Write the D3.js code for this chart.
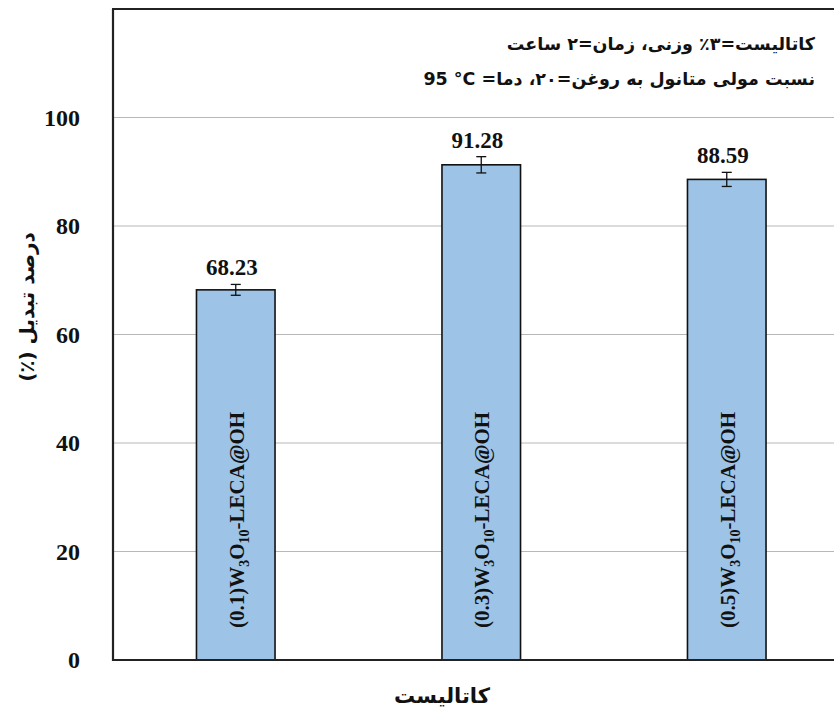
<!DOCTYPE html>
<html>
<head>
<meta charset="utf-8">
<script src="https://cdn.jsdelivr.net/npm/d3@7"></script>
<style>
  html, body { margin: 0; padding: 0; background: #fff; }
  svg { display: block; }
</style>
</head>
<body>
<svg id="chart" width="834" height="710"></svg>
<script>
// Catalyst loading (W3O10 fraction) and conversion results
const catalystLoads = ["0.1", "0.3", "0.5"];
const conversion = [68.23, 91.28, 88.59];
const conversionErr = [1.0, 1.5, 1.3];
const yTicks = [0, 20, 40, 60, 80, 100];

const yTitle = "درصد تبدیل (٪)";
const xTitle = "کاتالیست";
// LRI/PDI keep the temperature reading left-to-right inside the RTL line
const noteLines = [
  "کاتالیست=۳٪ وزنی، زمان=۲ ساعت",
  "نسبت مولی متانول به روغن=۲۰، دما= \u206695 °C\u2069"
];

const svg = d3.select("#chart");
const plotLeft = 113, plotTop = 9, plotBottom = 660, plotRightExtent = 849.5;
const serif = "'Liberation Serif', 'Times New Roman', serif";
const persian = "'DejaVu Sans', sans-serif";

const x = d3.scaleBand()
  .domain(catalystLoads)
  .range([plotLeft, plotRightExtent])
  .paddingInner(0.68)
  .paddingOuter(0.34);

const y = d3.scaleLinear().domain([0, 120]).range([plotBottom, plotTop]);

// horizontal gridlines
svg.append("g")
  .selectAll("line")
  .data(yTicks.filter(d => d > 0))
  .join("line")
  .attr("x1", plotLeft).attr("x2", 834)
  .attr("y1", d => y(d)).attr("y2", d => y(d))
  .attr("stroke", "#b8b8b8").attr("stroke-width", 1);

// y tick labels
const yAxis = svg.append("g")
  .attr("transform", `translate(${plotLeft},0)`)
  .call(d3.axisLeft(y).tickValues(yTicks).tickSize(0).tickPadding(33))
  .attr("font-family", serif)
  .attr("font-size", 24)
  .attr("font-weight", "bold");
yAxis.select(".domain").remove();
yAxis.selectAll("text")
  .attr("font-family", serif)
  .attr("font-weight", "bold")
  .attr("font-size", 24)
  .attr("fill", "#111");

// bars
const data = catalystLoads.map((c, i) => ({ c, v: conversion[i], e: conversionErr[i] }));

svg.append("g")
  .selectAll("rect")
  .data(data)
  .join("rect")
  .attr("x", d => x(d.c))
  .attr("y", d => y(d.v))
  .attr("width", x.bandwidth())
  .attr("height", d => y(0) - y(d.v))
  .attr("fill", "#9dc3e6")
  .attr("stroke", "#111")
  .attr("stroke-width", 1.6);

// error bars
const eb = svg.append("g").attr("stroke", "#111").attr("stroke-width", 1.3);
data.forEach(d => {
  const cx = x(d.c) + x.bandwidth() / 2;
  eb.append("line").attr("x1", cx).attr("x2", cx).attr("y1", y(d.v + d.e)).attr("y2", y(d.v - d.e));
  eb.append("line").attr("x1", cx - 5).attr("x2", cx + 5).attr("y1", y(d.v + d.e)).attr("y2", y(d.v + d.e));
  eb.append("line").attr("x1", cx - 5).attr("x2", cx + 5).attr("y1", y(d.v - d.e)).attr("y2", y(d.v - d.e));
});

// value labels
svg.append("g")
  .selectAll("text")
  .data(data)
  .join("text")
  .attr("x", d => x(d.c) + x.bandwidth() / 2 - 4)
  .attr("y", d => y(d.v + d.e) - 9)
  .attr("text-anchor", "middle")
  .attr("font-family", serif)
  .attr("font-weight", "bold")
  .attr("font-size", 23)
  .attr("fill", "#111")
  .text(d => d.v.toFixed(2));

// rotated catalyst names inside bars
data.forEach(d => {
  const cx = x(d.c) + x.bandwidth() / 2 + 8;
  const t = svg.append("text")
    .attr("transform", `translate(${cx},628) rotate(-90)`)
    .attr("font-family", serif)
    .attr("font-weight", "bold")
    .attr("font-size", 21)
    .attr("fill", "#111");
  t.append("tspan").text(`(${d.c})W`);
  t.append("tspan").attr("dy", 5).attr("font-size", 14).text("3");
  t.append("tspan").attr("dy", -5).text("O");
  t.append("tspan").attr("dy", 5).attr("font-size", 14).text("10");
  t.append("tspan").attr("dy", -5).text("-LECA@OH");
});

// frame: left axis, bottom axis, top border
const frame = svg.append("g").attr("stroke", "#222").attr("stroke-width", 2.2).attr("fill", "none");
frame.append("line").attr("x1", plotLeft).attr("x2", plotLeft).attr("y1", plotTop).attr("y2", plotBottom + 1);
frame.append("line").attr("x1", plotLeft - 1).attr("x2", 834).attr("y1", plotBottom).attr("y2", plotBottom);
frame.append("line").attr("x1", plotLeft - 1).attr("x2", 834).attr("y1", plotTop).attr("y2", plotTop);

// condition notes (top right)
svg.append("g")
  .selectAll("text")
  .data(noteLines)
  .join("text")
  .attr("x", 815)
  .attr("y", (d, i) => 50 + i * 35)
  .attr("direction", "rtl")
  .attr("text-anchor", "start")
  .attr("font-family", persian)
  .attr("font-weight", "bold")
  .attr("font-size", 17.5)
  .attr("fill", "#111")
  .text(d => d);

// axis titles
svg.append("text")
  .attr("transform", `translate(34,307) rotate(-90)`)
  .attr("text-anchor", "middle")
  .attr("direction", "rtl")
  .attr("font-family", persian)
  .attr("font-weight", "bold")
  .attr("font-size", 20)
  .attr("fill", "#111")
  .text(yTitle);

svg.append("text")
  .attr("x", 442)
  .attr("y", 703)
  .attr("text-anchor", "middle")
  .attr("direction", "rtl")
  .attr("font-family", persian)
  .attr("font-weight", "bold")
  .attr("font-size", 21)
  .attr("fill", "#111")
  .text(xTitle);
</script>
</body>
</html>
